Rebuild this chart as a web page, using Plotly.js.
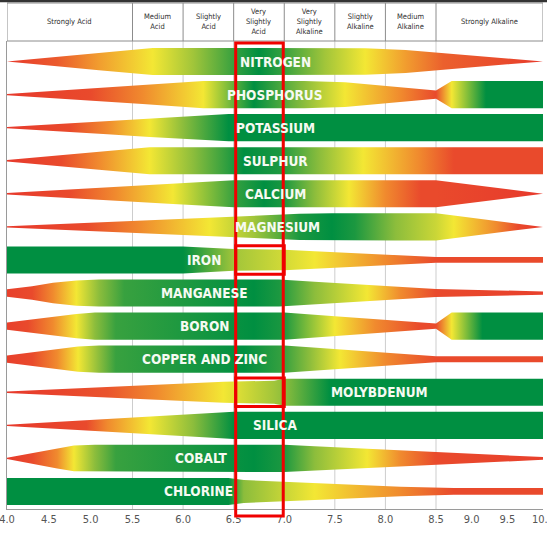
<!DOCTYPE html>
<html><head><meta charset="utf-8">
<script src="https://cdn.plot.ly/plotly-3.0.1.min.js"></script>
<style>html,body{margin:0;padding:0;background:#fff}#chart{width:547px;height:546px}</style>
</head><body><div id="chart"></div>
<script>
// ---------------- data ----------------
const nutrients = ['NITROGEN','PHOSPHORUS','POTASSIUM','SULPHUR','CALCIUM','MAGNESIUM','IRON',
  'MANGANESE','BORON','COPPER AND ZINC','MOLYBDENUM','SILICA','COBALT','CHLORINE'];

// pH knots for each nutrient band
const bandPH = [
  [4.0,4.6,5.1,5.7,6.1,6.5,6.75,7.0,7.4,7.8,8.2,8.6,9.5,10.0],
  [4.0,5.0,5.6,6.2,6.7,7.2,7.6,8.15,8.5,8.72,9.2,10.0],
  [4.0,4.75,5.2,5.67,6.0,6.45,10.0],
  [4.0,4.65,5.1,5.67,6.1,6.6,6.95,7.35,7.78,8.33,8.75,10.0],
  [4.0,4.75,5.3,5.9,6.5,6.8,7.0,7.3,7.64,8.0,8.35,8.5,10.0],
  [4.0,4.95,5.57,6.26,6.7,7.15,7.47,7.7,8.1,8.5,8.75,9.35,9.65,10.0],
  [4.0,6.0,6.5,7.0,7.3,8.0,8.5,10.0],
  [4.0,4.3,4.55,4.83,5.1,5.4,6.7,6.95,7.3,7.82,8.15,8.5,10.0],
  [4.0,4.25,4.55,4.83,5.05,5.3,6.7,7.0,7.5,7.9,8.35,8.5,8.72,9.15,10.0],
  [4.0,4.3,4.6,4.85,5.1,5.3,6.6,7.0,7.25,7.55,8.0,8.5,10.0],
  [4.0,4.6,5.2,5.74,6.4,6.9,7.0,7.45,10.0],
  [4.0,4.95,5.2,5.67,6.1,6.5,10.0],
  [4.0,4.3,4.6,4.8,5.05,5.3,6.7,7.0,7.3,7.82,8.15,8.5,10.0],
  [4.0,6.45,6.6,7.3,7.8,8.15,8.75,10.0]
];
// availability level at each knot (0 = low/red, 0.5 = medium/yellow, 1 = high/green)
const bandLevel = [
  [0,0.1,0.3,0.5,0.7,0.9,1,0.9,0.7,0.5,0.3,0.12,0.05,0],
  [0,0.05,0.25,0.5,1,0.75,0.5,0.25,0.05,0.5,1,1],
  [0,0.05,0.25,0.5,0.75,1,1],
  [0,0.05,0.25,0.5,0.75,1,0.95,0.75,0.5,0.25,0.05,0.05],
  [0,0.05,0.25,0.5,0.9,1,0.95,0.75,0.5,0.25,0.05,0.05,0],
  [0,0.05,0.25,0.5,0.7,0.95,1,0.95,0.75,0.6,0.5,0.25,0.05,0],
  [1,1,0.7,0.58,0.5,0.25,0.05,0.05],
  [0.02,0.05,0.25,0.5,0.75,0.9,1,0.95,0.75,0.5,0.25,0.05,0.02],
  [0.02,0.05,0.25,0.5,0.75,0.9,1,0.95,0.5,0.25,0.05,0.05,0.5,1,1],
  [0.02,0.05,0.25,0.5,0.75,0.9,1,0.9,0.75,0.5,0.25,0.05,0.05],
  [0,0.03,0.08,0.25,0.5,0.7,0.75,1,1],
  [0,0.05,0.25,0.5,0.75,1,1],
  [0,0.05,0.25,0.5,0.75,0.9,1,0.95,0.75,0.5,0.25,0.05,0.02],
  [1,1,0.75,0.5,0.35,0.25,0.05,0.05]
];
// relative band thickness at each knot (1 = full)
const bandWidth = [
  [0,0.34,0.64,1,1,1,1,1,1,0.97,0.84,0.6,0.21,0],
  [0.05,0.44,0.7,1,1,1,0.915,0.52,0.3,1,1,1],
  [0.05,0.32,0.48,0.68,0.83,1,1],
  [0.05,0.41,0.66,1,1,1,1,1,1,1,1,1],
  [0.05,0.31,0.51,0.75,1,1,1,1,1,1,1,1,0],
  [0.05,0.30,0.46,0.68,0.82,0.965,1,1,1,1,0.83,0.44,0.23,0],
  [1,1,0.8,0.76,0.65,0.4,0.21,0.21],
  [0.27,0.5,0.75,0.93,1,1,1,1,0.84,0.61,0.46,0.3,0.12],
  [0.27,0.45,0.7,0.9,1,1,1,1,0.73,0.52,0.28,0.2,1,1,1],
  [0.27,0.5,0.75,0.93,1,1,1,1,0.88,0.72,0.48,0.22,0.22],
  [0.05,0.22,0.38,0.55,0.77,0.85,1,1,1],
  [0.05,0.38,0.47,0.64,0.82,1,1],
  [0.05,0.4,0.75,0.95,1,1,1,1,0.89,0.7,0.58,0.45,0.1],
  [1,1,0.85,0.62,0.45,0.35,0.25,0.25]
];
const labelPH = [6.91,6.9,6.91,6.91,6.91,6.93,6.21,6.21,6.21,6.21,7.94,6.91,6.18,6.15];

const tickPH = [4.0,4.5,5.0,5.5,6.0,6.5,7.0,7.5,8.0,8.5,9.0,9.5,10.0];
const tickText = ['4.0','4.5','5.0','5.5','6.0','6.5','7.0','7.5','8.0','8.5','9.0','9.5','10.0'];
const zoneBounds = [4.0,5.5,6.0,6.5,7.0,7.5,8.0,8.5,10.0];
const zoneNames = ['Strongly Acid','Medium<br>Acid','Slightly<br>Acid','Very<br>Slightly<br>Acid',
  'Very<br>Slightly<br>Alkaline','Slightly<br>Alkaline','Medium<br>Alkaline','Strongly Alkaline'];
const highlightPH = [6.52, 6.99];
const highlightRows = ['IRON','MOLYBDENUM'];

// ---------------- scale (pH axis is compressed at both ends in the original) ----------------
const scalePH = [4.0, 5.5, 8.5, 10.0];
const scaleU  = [0, 125.5, 429, 536];
function u(p){
  for (let k=0;k<scalePH.length-1;k++){
    if (p<=scalePH[k+1] || k===scalePH.length-2){
      const t=(p-scalePH[k])/(scalePH[k+1]-scalePH[k]);
      return scaleU[k]+t*(scaleU[k+1]-scaleU[k]);
    }
  }
}
const U0 = u(4.0), U1 = u(10.0);

const levelStops = [[0,[231,58,44]],[0.25,[240,138,46]],[0.5,[243,231,52]],[0.75,[140,189,60]],[1,[0,143,65]]];
function levelColor(v){
  v=Math.max(0,Math.min(1,v));
  for (let k=0;k<levelStops.length-1;k++){
    const a=levelStops[k], b=levelStops[k+1];
    if (v<=b[0]){
      const t=(v-a[0])/(b[0]-a[0]);
      const c=a[1].map((x,j)=>Math.round(x+t*(b[1][j]-x)));
      return 'rgb('+c.join(',')+')';
    }
  }
}

const HALF = 0.41;
const FONT = "'Liberation Sans Narrow','Arial Narrow','DejaVu Sans Condensed',sans-serif";

const traces = nutrients.map((name,i)=>{
  const ph = bandPH[i], w = bandWidth[i], lv = bandLevel[i];
  const xs = ph.map(u);
  const top = w.map(v=>i - v*HALF);
  const bot = w.map(v=>i + v*HALF);
  return {
    type:'scatter', mode:'lines', hoverinfo:'skip', name:name,
    x: xs.concat(xs.slice().reverse()),
    y: top.concat(bot.slice().reverse()),
    fill:'toself',
    line:{width:0, color:'rgba(0,0,0,0)'},
    fillgradient:{type:'horizontal', start:U0, stop:U1,
      colorscale: ph.map((p,k)=>[(u(p)-U0)/(U1-U0), levelColor(lv[k])])}
  };
});

// ---------------- layout ----------------
const plotTopPx = 41, plotBotPx = 509, plotH = plotBotPx - plotTopPx;
const py = px => (plotBotPx - px)/plotH;   // pixel row -> paper y

const shapes = [];
zoneBounds.slice(1,-1).forEach(b=>{
  shapes.push({type:'line', xref:'x', yref:'paper', x0:u(b), x1:u(b), y0:0, y1:1,
    line:{color:'#cdcdcd', width:1}, layer:'below'});
});
// header box
shapes.push({type:'rect', xref:'x', yref:'paper', x0:U0, x1:U1, y0:1, y1:py(3),
  line:{color:'#8c8c8c', width:1}, fillcolor:'rgba(0,0,0,0)'});
zoneBounds.slice(1,-1).forEach(b=>{
  shapes.push({type:'line', xref:'x', yref:'paper', x0:u(b), x1:u(b), y0:1, y1:py(3),
    line:{color:'#8c8c8c', width:1}});
});
shapes.push({type:'line', xref:'paper', yref:'paper', x0:-0.02, x1:1.02, y0:py(1), y1:py(1),
  line:{color:'#333', width:2.5}});
// highlight boxes
shapes.push({type:'rect', xref:'x', yref:'paper', x0:u(highlightPH[0]), x1:u(highlightPH[1]),
  y0:py(516), y1:py(43), line:{color:'#f00000', width:3}});
highlightRows.forEach(r=>{
  const i = nutrients.indexOf(r);
  shapes.push({type:'rect', xref:'x', yref:'y', x0:u(highlightPH[0]), x1:u(7.0),
    y0:i-0.43, y1:i+0.43, line:{color:'#f00000', width:3}});
});

const annotations = nutrients.map((name,i)=>({
  x:u(labelPH[i]), y:i, xref:'x', yref:'y', text:name, showarrow:false,
  font:{family:FONT, size:13.5, color:'#f6faf2', weight:700}
}));
zoneNames.forEach((t,k)=>{
  const xc = (u(zoneBounds[k])+u(zoneBounds[k+1]))/2;
  annotations.push({x:xc, y:py(22), xref:'x', yref:'paper', text:t, showarrow:false,
    yanchor:'middle', align:'center',
    font:{family:FONT, size:7.5, color:'#2e2e2e'}});
});

const layout = {
  width:547, height:546,
  margin:{l:7, r:4, t:41, b:37, pad:0},
  paper_bgcolor:'#fff', plot_bgcolor:'#fff',
  showlegend:false,
  xaxis:{range:[U0,U1], tickvals:tickPH.map(u), ticktext:tickText, showgrid:false, zeroline:false,
    showline:true, linecolor:'#9a9a9a', linewidth:1, ticks:'', fixedrange:true,
    ticklabeloverflow:'allow',
    tickfont:{family:FONT, size:11, color:'#555'}},
  yaxis:{range:[13.53,-0.62], showticklabels:false, showgrid:false, zeroline:false,
    showline:true, linecolor:'#9a9a9a', linewidth:1, ticks:'', fixedrange:true},
  shapes:shapes, annotations:annotations
};

Plotly.newPlot('chart', traces, layout, {displayModeBar:false, staticPlot:true});
</script></body></html>
